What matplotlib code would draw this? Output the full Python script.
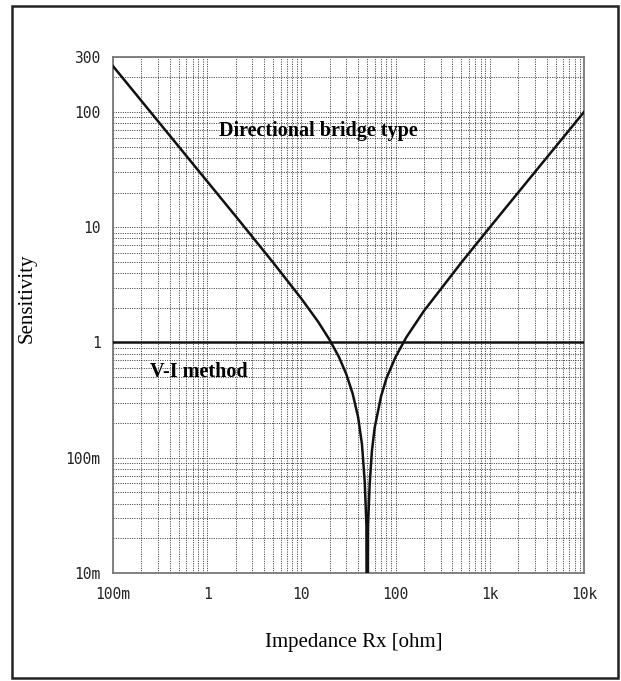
import numpy as np
import matplotlib
matplotlib.use("Agg")
import matplotlib.pyplot as plt
from matplotlib.patches import Rectangle

# impedance Rx [ohm] and sensitivity
rx = [0.1, 0.2, 0.5, 1, 2, 5, 10, 15, 20, 25, 30, 35, 40, 44, 47, 49, 50,
      51, 53, 56, 60, 70, 80, 100, 130, 200, 500, 1000, 2000, 5000, 10000]
bridge = [250, 125, 50, 25, 12.5, 4.95, 2.4, 1.52, 1.05, 0.75, 0.53, 0.36,
          0.225, 0.13, 0.062, 0.026, 0.0001, 0.026, 0.058, 0.114, 0.183, 0.34,
          0.49, 0.75, 1.11, 1.88, 4.95, 9.98, 20, 50, 100]
vi_x = [0.1, 10000]
vi_y = [1, 1]

xticks = [0.1, 1, 10, 100, 1000, 10000]
xlabels = ["100m", "1", "10", "100", "1k", "10k"]
yticks = [0.01, 0.1, 1, 10, 100, 300]
ylabels = ["10m", "100m", "1", "10", "100", "300"]

W, H = 621, 681
fig = plt.figure(figsize=(W / 100, H / 100), dpi=100)

# outer frame
fig.patches.append(Rectangle((12 / W, 1 - 678 / H), 606 / W, 672 / H,
                             transform=fig.transFigure, fill=False,
                             ec="#222222", lw=1.8))

ax = fig.add_axes([113 / W, 1 - 573 / H, 471 / W, 516 / H])
ax.set_xscale("log")
ax.set_yscale("log")
ax.set_xlim(0.1, 10000)
ax.set_ylim(0.01, 300)

ax.grid(True, which="both", ls=(0, (1, 1.4)), color="#333333", lw=0.7)
ax.plot(rx, bridge, color="#111111", lw=1.8, zorder=3)
ax.plot(vi_x, vi_y, color="#111111", lw=1.8, zorder=3)

ax.set_xticks(xticks)
ax.set_xticklabels(xlabels)
ax.set_yticks(yticks)
ax.set_yticklabels(ylabels)
ax.minorticks_on()
ax.tick_params(which="both", length=0)
ax.tick_params(axis="x", pad=10)
ax.tick_params(axis="y", pad=9)
for lab in ax.get_xticklabels() + ax.get_yticklabels():
    lab.set_family("DejaVu Sans Mono")
    lab.set_fontsize(10.5)
    lab.set_color("#222222")
for s in ax.spines.values():
    s.set_color("#777777")
    s.set_linewidth(1.3)

ax.text(15, 68, "Directional bridge type", ha="center", va="center",
        family="Liberation Serif", weight="bold", fontsize=14.5)
ax.text(0.247, 0.553, "V-I method", ha="left", va="center",
        family="Liberation Serif", weight="bold", fontsize=14.5)

fig.text(27 / W, 1 - 298 / H, "Sensitivity", rotation=90, ha="center",
         va="center", family="Liberation Serif", fontsize=15)
fig.text(354 / W, 1 - 642 / H, "Impedance Rx [ohm]", ha="center",
         va="center", family="Liberation Serif", fontsize=15)

fig.savefig("out.png", dpi=100)
